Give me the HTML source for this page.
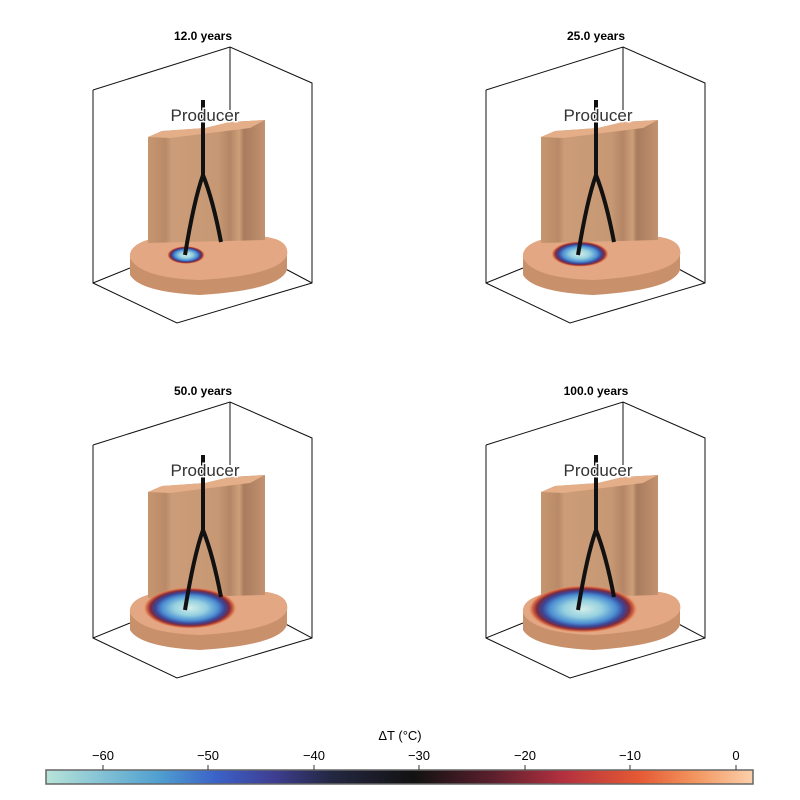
<!DOCTYPE html>
<html><head><meta charset="utf-8"><style>
body{margin:0;background:#fff}
svg{display:block}
text{font-family:"Liberation Sans",sans-serif}
</style></head><body>
<svg width="800" height="800" viewBox="0 0 800 800">
<defs>
<radialGradient id="sp" cx="0.5" cy="0.5" r="0.5">
<stop offset="0" stop-color="#d4eeea"/>
<stop offset="0.35" stop-color="#95d0df"/>
<stop offset="0.6" stop-color="#4c8fd2"/>
<stop offset="0.74" stop-color="#3a4598"/>
<stop offset="0.84" stop-color="#7a2a40"/>
<stop offset="0.92" stop-color="#d8643e"/>
<stop offset="1" stop-color="#e3a883" stop-opacity="0"/>
</radialGradient>
<linearGradient id="col" x1="0" x2="1">
<stop offset="0" stop-color="#c6966f"/>
<stop offset="0.15" stop-color="#b98a68"/>
<stop offset="0.2" stop-color="#cc9c78"/>
<stop offset="0.6" stop-color="#c79874"/>
<stop offset="0.7" stop-color="#b48666"/>
<stop offset="0.78" stop-color="#cf9f7a"/>
<stop offset="0.82" stop-color="#a87c5e"/>
<stop offset="1" stop-color="#c39270"/>
</linearGradient>
<linearGradient id="cb" x1="0" x2="1">
<stop offset="0" stop-color="#b7e4d9"/>
<stop offset="0.16" stop-color="#4f9fd0"/>
<stop offset="0.24" stop-color="#3b62c8"/>
<stop offset="0.32" stop-color="#3e3f94"/>
<stop offset="0.4" stop-color="#252844"/>
<stop offset="0.52" stop-color="#121212"/>
<stop offset="0.63" stop-color="#5a1f2c"/>
<stop offset="0.73" stop-color="#b2303f"/>
<stop offset="0.84" stop-color="#e55a34"/>
<stop offset="0.92" stop-color="#f39760"/>
<stop offset="1" stop-color="#fbd0ab"/>
</linearGradient>
</defs>

<g>
<text x="203" y="40" font-size="12" font-weight="bold" text-anchor="middle">12.0 years</text>
<g fill="none" stroke="#111" stroke-width="1">
<polyline points="93,90 230,47 312,83 312,283 177,323 93,283 93,90"/>
<line x1="230" y1="47" x2="230" y2="110"/>
<line x1="93" y1="283" x2="130" y2="268"/>
<line x1="312" y1="283" x2="280" y2="266"/>
</g>
<path d="M130,258 Q128,240 170,236 L250,236 Q290,236 287,255 L287,270 Q280,290 200,295 Q140,292 130,275 Z" fill="#c8916c"/>
<path d="M130,258 Q128,240 170,236 L250,236 Q290,236 287,255 Q280,275 200,280 Q140,278 130,258Z" fill="#e3a883"/>
<path d="M148,137 L162,131 L205,128 L230,122 L265,120 L265,240 L148,243 Z" fill="url(#col)"/>
<path d="M148,137 L162,131 L205,128 L230,122 L265,120 L250,128 L170,138 Z" fill="#e4ae88"/>
<ellipse cx="186" cy="255" rx="19" ry="9" fill="url(#sp)"/>
<path d="M203,100 L203,175 Q194,200 185,255 M203,175 Q213,200 221,242" fill="none" stroke="#111" stroke-width="4"/>
<text x="205" y="121" font-size="17" text-anchor="middle" fill="#333" stroke="#fff" stroke-width="3" paint-order="stroke">Producer</text>
</g>

<g transform="translate(393,0)">
<text x="203" y="40" font-size="12" font-weight="bold" text-anchor="middle">25.0 years</text>
<g fill="none" stroke="#111" stroke-width="1">
<polyline points="93,90 230,47 312,83 312,283 177,323 93,283 93,90"/>
<line x1="230" y1="47" x2="230" y2="110"/>
<line x1="93" y1="283" x2="130" y2="268"/>
<line x1="312" y1="283" x2="280" y2="266"/>
</g>
<path d="M130,258 Q128,240 170,236 L250,236 Q290,236 287,255 L287,270 Q280,290 200,295 Q140,292 130,275 Z" fill="#c8916c"/>
<path d="M130,258 Q128,240 170,236 L250,236 Q290,236 287,255 Q280,275 200,280 Q140,278 130,258Z" fill="#e3a883"/>
<path d="M148,137 L162,131 L205,128 L230,122 L265,120 L265,240 L148,243 Z" fill="url(#col)"/>
<path d="M148,137 L162,131 L205,128 L230,122 L265,120 L250,128 L170,138 Z" fill="#e4ae88"/>
<ellipse cx="187" cy="254" rx="29" ry="13" fill="url(#sp)"/>
<path d="M203,100 L203,175 Q194,200 185,255 M203,175 Q213,200 221,242" fill="none" stroke="#111" stroke-width="4"/>
<text x="205" y="121" font-size="17" text-anchor="middle" fill="#333" stroke="#fff" stroke-width="3" paint-order="stroke">Producer</text>
</g>

<g transform="translate(0,355)">
<text x="203" y="40" font-size="12" font-weight="bold" text-anchor="middle">50.0 years</text>
<g fill="none" stroke="#111" stroke-width="1">
<polyline points="93,90 230,47 312,83 312,283 177,323 93,283 93,90"/>
<line x1="230" y1="47" x2="230" y2="110"/>
<line x1="93" y1="283" x2="130" y2="268"/>
<line x1="312" y1="283" x2="280" y2="266"/>
</g>
<path d="M130,258 Q128,240 170,236 L250,236 Q290,236 287,255 L287,270 Q280,290 200,295 Q140,292 130,275 Z" fill="#c8916c"/>
<path d="M130,258 Q128,240 170,236 L250,236 Q290,236 287,255 Q280,275 200,280 Q140,278 130,258Z" fill="#e3a883"/>
<path d="M148,137 L162,131 L205,128 L230,122 L265,120 L265,240 L148,243 Z" fill="url(#col)"/>
<path d="M148,137 L162,131 L205,128 L230,122 L265,120 L250,128 L170,138 Z" fill="#e4ae88"/>
<ellipse cx="190" cy="253" rx="47" ry="21" fill="url(#sp)"/>
<path d="M203,100 L203,175 Q194,200 185,255 M203,175 Q213,200 221,242" fill="none" stroke="#111" stroke-width="4"/>
<text x="205" y="121" font-size="17" text-anchor="middle" fill="#333" stroke="#fff" stroke-width="3" paint-order="stroke">Producer</text>
</g>

<g transform="translate(393,355)">
<text x="203" y="40" font-size="12" font-weight="bold" text-anchor="middle">100.0 years</text>
<g fill="none" stroke="#111" stroke-width="1">
<polyline points="93,90 230,47 312,83 312,283 177,323 93,283 93,90"/>
<line x1="230" y1="47" x2="230" y2="110"/>
<line x1="93" y1="283" x2="130" y2="268"/>
<line x1="312" y1="283" x2="280" y2="266"/>
</g>
<path d="M130,258 Q128,240 170,236 L250,236 Q290,236 287,255 L287,270 Q280,290 200,295 Q140,292 130,275 Z" fill="#c8916c"/>
<path d="M130,258 Q128,240 170,236 L250,236 Q290,236 287,255 Q280,275 200,280 Q140,278 130,258Z" fill="#e3a883"/>
<path d="M148,137 L162,131 L205,128 L230,122 L265,120 L265,240 L148,243 Z" fill="url(#col)"/>
<path d="M148,137 L162,131 L205,128 L230,122 L265,120 L250,128 L170,138 Z" fill="#e4ae88"/>
<ellipse cx="190" cy="254" rx="55" ry="24" fill="url(#sp)"/>
<path d="M203,100 L203,175 Q194,200 185,255 M203,175 Q213,200 221,242" fill="none" stroke="#111" stroke-width="4"/>
<text x="205" y="121" font-size="17" text-anchor="middle" fill="#333" stroke="#fff" stroke-width="3" paint-order="stroke">Producer</text>
</g>

<text x="400" y="740" font-size="13" text-anchor="middle">ΔT (°C)</text>
<rect x="46" y="770" width="707" height="14" fill="url(#cb)" stroke="#666" stroke-width="1.5"/>
<g font-size="13" text-anchor="middle">
<text x="103" y="760">−60</text><text x="208" y="760">−50</text><text x="314" y="760">−40</text>
<text x="419" y="760">−30</text><text x="525" y="760">−20</text><text x="630" y="760">−10</text><text x="736" y="760">0</text>
</g>
<g stroke="#333" stroke-width="1">
<line x1="103" y1="765" x2="103" y2="770"/><line x1="208" y1="765" x2="208" y2="770"/><line x1="314" y1="765" x2="314" y2="770"/>
<line x1="419" y1="765" x2="419" y2="770"/><line x1="525" y1="765" x2="525" y2="770"/><line x1="630" y1="765" x2="630" y2="770"/><line x1="736" y1="765" x2="736" y2="770"/>
</g>
</svg>
</body></html>
